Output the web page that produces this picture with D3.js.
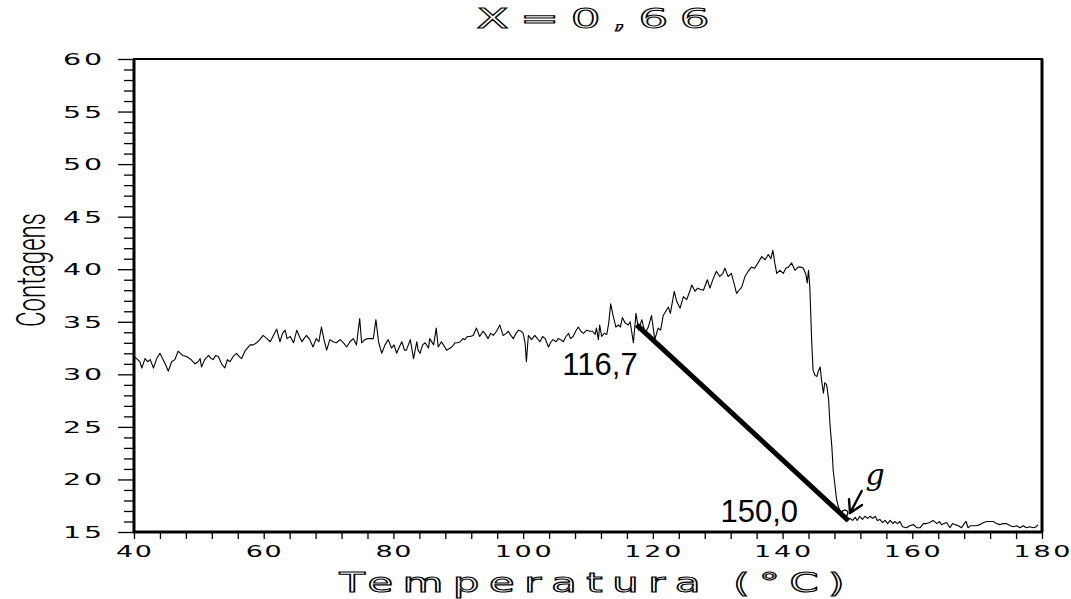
<!DOCTYPE html>
<html lang="pt">
<head>
<meta charset="UTF-8">
<title>X=0,66</title>
<script src="https://d3js.org/d3.v7.min.js"></script>
<style>
    body { margin: 0; background: #fff; }
    svg { display: block; }
    .wide { font-family: "DejaVu Sans", sans-serif; }
</style>
</head>
<body>
<svg id="chart" width="1071" height="599"></svg>
<script>
// counts, [temperature, counts]
const seg40to76 = [[40.0,31.7],[40.4,31.5],[40.9,31.2],[41.2,30.6],[41.7,31.5],[42.1,31.2],[42.5,31.4],[43.0,30.6],[43.5,31.5],[44.0,32.0],[44.4,31.5],[44.8,31.0],[45.3,30.3],[45.8,31.2],[46.3,31.4],[46.8,32.2],[47.5,31.8],[48.1,31.7],[48.8,31.4],[49.4,31.0],[49.9,31.2],[50.2,31.5],[50.4,30.7],[50.9,31.4],[51.5,31.8],[51.9,31.5],[52.2,31.4],[52.6,31.8],[53.0,31.7],[53.5,31.0],[54.0,30.6],[54.4,31.4],[54.8,31.2],[55.3,31.7],[55.8,32.0],[56.2,31.7],[56.6,31.5],[57.1,32.2],[57.9,32.8],[58.4,32.8],[58.9,33.0],[59.4,33.3],[59.9,33.7],[60.5,33.4],[61.0,33.1],[61.5,33.7],[62.0,34.3],[62.5,33.1],[62.9,33.9],[63.3,34.2],[63.6,33.4],[64.1,33.6],[64.6,33.0],[65.1,34.2],[65.5,33.6],[65.9,33.1],[66.2,33.4],[66.6,33.7],[67.1,33.3],[67.6,32.6],[68.1,33.4],[68.5,33.1],[68.9,34.5],[69.3,33.3],[69.7,32.3],[70.2,33.3],[70.7,33.1],[71.2,33.0],[71.8,33.3],[72.3,33.0],[72.8,32.6],[73.3,33.1],[73.8,33.4],[74.3,32.8],[74.8,35.3],[75.1,33.0],[75.6,33.3],[76.1,33.4]];
const seg76to110 = [[76.9,33.4],[77.3,35.2],[77.7,33.1],[78.2,32.0],[78.7,32.8],[79.2,33.3],[79.7,32.5],[80.1,32.8],[80.5,32.0],[80.9,32.6],[81.3,33.1],[81.7,32.3],[82.0,32.3],[82.6,33.3],[83.1,31.5],[83.6,33.1],[83.8,32.3],[84.1,32.0],[84.5,32.8],[84.9,33.0],[85.4,32.5],[85.6,33.4],[86.2,32.8],[86.6,34.4],[86.9,32.6],[87.4,33.1],[88.2,32.3],[89.0,32.6],[89.5,33.0],[89.9,33.0],[90.3,33.1],[90.7,33.4],[91.0,33.3],[91.4,33.6],[91.8,33.6],[92.3,33.7],[92.8,34.4],[93.3,33.6],[93.8,34.1],[94.1,33.9],[94.6,33.4],[95.0,33.9],[95.4,33.7],[95.9,34.1],[96.4,34.7],[96.9,33.7],[97.4,33.9],[97.7,34.1],[98.1,33.7],[98.5,33.4],[98.9,33.9],[99.3,34.2],[99.7,34.1],[100.0,33.9],[100.3,33.0],[100.5,31.2],[100.8,33.7],[101.3,33.3],[101.8,33.7],[102.2,33.4],[102.6,33.1],[103.0,33.6],[103.4,33.4],[103.9,32.6],[104.3,33.1],[104.6,33.3],[105.1,33.1],[105.4,33.4],[105.8,33.3],[106.2,33.1],[106.6,33.6],[107.0,33.9],[107.3,33.4],[107.7,33.6],[108.1,34.1],[108.5,34.5],[108.9,34.1],[109.3,33.9],[109.8,34.2],[110.3,34.1]];
const seg110to144 = [[110.7,34.1],[111.1,33.8],[111.3,34.4],[111.6,33.3],[111.8,34.7],[112.1,33.6],[112.5,33.9],[112.9,33.8],[113.2,34.9],[113.5,36.7],[113.9,35.5],[114.3,34.5],[114.7,34.7],[115.0,34.5],[115.3,35.4],[115.7,34.9],[116.2,34.7],[116.5,35.0],[116.7,34.2],[117.0,33.0],[117.4,35.8],[117.8,34.2],[118.3,35.2],[118.8,33.9],[119.3,34.5],[119.8,35.6],[120.3,33.3],[120.8,34.4],[121.2,34.2],[121.6,35.6],[122.0,36.0],[122.4,36.4],[122.7,35.8],[123.3,37.9],[123.7,36.9],[124.2,36.3],[124.7,37.4],[125.2,37.1],[125.7,37.9],[126.0,38.5],[126.5,37.9],[126.9,38.2],[127.3,38.1],[127.8,38.0],[128.4,39.0],[128.8,38.2],[129.3,39.1],[129.8,39.8],[130.3,39.3],[130.8,39.6],[131.1,40.1],[131.6,39.3],[132.1,39.6],[132.5,38.7],[132.9,37.7],[133.3,38.0],[133.7,38.3],[134.2,39.3],[134.7,39.8],[135.2,40.2],[135.7,40.1],[136.3,40.7],[136.8,41.2],[137.3,40.9],[137.8,41.4],[138.2,41.0],[138.5,41.8],[138.8,40.6],[139.1,39.6],[139.6,39.9],[140.1,39.6],[140.5,40.1],[140.9,40.2],[141.4,40.6],[141.9,39.9],[142.4,40.2],[142.8,40.2],[143.2,40.1],[143.6,39.5],[143.8,38.7],[144.0,39.9],[144.2,38.3]];
const seg144to158 = [[144.5,33.0],[144.7,30.4],[145.0,29.9],[145.3,29.8],[145.5,30.3],[145.8,30.7],[146.0,29.5],[146.3,28.2],[146.5,29.2],[146.8,29.0],[147.1,27.6],[147.3,25.3],[147.6,23.1],[147.8,20.9],[148.1,19.3],[148.3,18.2],[148.6,17.4],[149.0,16.8],[149.4,16.4],[149.9,16.0],[150.4,16.3],[150.8,16.1],[151.2,16.4],[151.5,16.1],[151.9,16.5],[152.3,16.2],[152.7,16.5],[153.1,16.3],[153.5,16.5],[153.9,16.3],[154.3,16.5],[154.6,16.1],[155.0,16.2],[155.4,15.9],[155.8,16.1],[156.2,15.8],[156.6,16.1],[157.0,15.8],[157.3,16.0],[157.7,15.8],[158.1,16.0]];
const seg158to180 = [[158.5,15.5],[159.1,15.4],[159.6,15.6],[160.2,15.7],[160.7,15.4],[161.2,15.4],[161.7,15.8],[162.2,15.8],[162.7,15.9],[163.2,16.1],[163.8,15.8],[164.2,16.0],[164.5,15.7],[164.9,15.8],[165.3,15.9],[165.8,15.4],[166.2,15.8],[166.6,15.7],[167.1,15.6],[167.6,15.4],[168.0,15.8],[168.3,16.0],[168.6,15.4],[169.0,15.6],[169.4,15.6],[169.9,15.6],[170.4,15.7],[171.0,15.9],[171.5,16.0],[172.0,16.0],[172.5,16.0],[173.0,15.8],[173.5,15.7],[174.0,15.8],[174.5,15.8],[175.1,15.6],[175.6,15.5],[176.1,15.6],[176.6,15.4],[177.1,15.6],[177.6,15.4],[178.1,15.5],[178.7,15.4],[179.1,15.5],[179.4,15.7]];

// tangent drawn by hand between the two marked temperatures
const tangentLine = [[117.5, 34.7], [150.1, 16.1]];
const tangentLabels = ["116,7", "150,0"];

const xTicks = [40, 60, 80, 100, 120, 140, 160, 180];
const yTicks = [15, 20, 25, 30, 35, 40, 45, 50, 55, 60];

const title = "X=0,66";
const xTitle = "Temperatura (°C)";
const yTitle = "Contagens";

const data = seg40to76.concat(seg76to110, seg110to144, seg144to158, seg158to180);

const svg = d3.select("#chart");
const margin = { top: 59, right: 29, bottom: 67, left: 134 };
const W = 1071, H = 599;

const x = d3.scaleLinear().domain([40, 180]).range([margin.left, W - margin.right]);
const y = d3.scaleLinear().domain([15, 60]).range([H - margin.bottom, margin.top]);

// wide, letter-spaced lettering like the plotter font
function wideText(str, tx, ty, size, sx, width, anchor) {
    const t = svg.append("text")
        .attr("class", "wide")
        .attr("transform", `translate(${tx},${ty}) scale(${sx},1)`)
        .attr("font-size", size)
        .attr("text-anchor", anchor)
        .text(str);
    if (width) t.attr("textLength", width / sx).attr("lengthAdjust", "spacing");
    return t;
}

// axes
const xAxis = d3.axisBottom(x).tickValues(d3.range(40, 181, 4)).tickSize(7).tickFormat("");
const yAxis = d3.axisLeft(y).tickValues(d3.range(15, 61, 1))
    .tickSize(10).tickFormat("");

svg.append("g").attr("transform", `translate(0,${y(15)})`).call(xAxis)
    .call(g => g.select(".domain").remove())
    .call(g => g.selectAll("line").attr("stroke-width", 1.3));
svg.append("g").attr("transform", `translate(${x(40)},0)`).call(yAxis)
    .call(g => g.select(".domain").remove())
    .call(g => g.selectAll(".tick line").attr("stroke-width", 1.3)
        .attr("x2", d => d % 5 === 0 ? -16 : -10));

// frame
svg.append("rect")
    .attr("x", x(40)).attr("y", y(60))
    .attr("width", x(180) - x(40)).attr("height", y(15) - y(60))
    .attr("fill", "none").attr("stroke", "#000").attr("stroke-width", 2);
svg.append("line").attr("x1", x(40)).attr("x2", x(40)).attr("y1", y(60)).attr("y2", y(15))
    .attr("stroke", "#000").attr("stroke-width", 3);
svg.append("line").attr("x1", x(180)).attr("x2", x(180)).attr("y1", y(60)).attr("y2", y(15))
    .attr("stroke", "#000").attr("stroke-width", 3);
svg.append("line").attr("x1", x(40) - 1).attr("x2", x(180) + 1).attr("y1", y(15)).attr("y2", y(15))
    .attr("stroke", "#000").attr("stroke-width", 3);

// tick labels
xTicks.forEach(t => {
    const s = String(t);
    wideText(s, x(t), y(15) + 25, 15, 1.8, s.length * 15 + (s.length - 1) * 6, "middle");
});
yTicks.forEach(t => {
    wideText(String(t), x(40) - 29, y(t) + 6, 15, 1.9, null, "end").attr("letter-spacing", 1.5);
});

// titles
wideText(title, 593, 28, 26, 1.8, 233, "middle")
    .attr("fill", "#fff").attr("stroke", "#000").attr("stroke-width", 1);
wideText(xTitle, 592, 592, 26, 1.6, 505, "middle")
    .attr("fill", "#fff").attr("stroke", "#000").attr("stroke-width", 1.1);

svg.append("text")
    .attr("transform", `translate(45,270) rotate(-90)`)
    .attr("font-family", "Roboto, 'Liberation Sans', sans-serif")
    .attr("font-weight", 300)
    .attr("font-size", 40)
    .attr("text-anchor", "middle")
    .attr("textLength", 114).attr("lengthAdjust", "spacingAndGlyphs")
    .text(yTitle);

// trace
const line = d3.line().x(d => x(d[0])).y(d => y(d[1]));
svg.append("path")
    .datum(data)
    .attr("d", line)
    .attr("fill", "none")
    .attr("stroke", "#000")
    .attr("stroke-width", 1.1)
    .attr("stroke-linejoin", "round");

// tangent
svg.append("path")
    .datum(tangentLine)
    .attr("d", line)
    .attr("stroke", "#000")
    .attr("stroke-width", 5);

svg.append("text")
    .attr("x", x(tangentLine[0][0]) + 1).attr("y", y(tangentLine[0][1]) + 50)
    .attr("text-anchor", "end")
    .attr("font-family", "'Liberation Sans', Arial, sans-serif")
    .attr("font-size", 31)
    .text(tangentLabels[0]);
svg.append("text")
    .attr("x", x(tangentLine[1][0]) - 50).attr("y", y(tangentLine[1][1]) + 2)
    .attr("text-anchor", "end")
    .attr("font-family", "'Liberation Sans', Arial, sans-serif")
    .attr("font-size", 31)
    .text(tangentLabels[1]);

// marked point with the hand-written arrow
svg.append("circle")
    .attr("cx", x(149.6)).attr("cy", y(16.8)).attr("r", 3)
    .attr("fill", "none").attr("stroke", "#000").attr("stroke-width", 1.2);

const ax0 = x(152.2), ay0 = y(18.9), ax1 = x(150.4), ay1 = y(16.8);
svg.append("path")
    .attr("d", `M${ax0},${ay0} L${ax1},${ay1} M${ax1 - 1},${ay1 - 14} L${ax1},${ay1} L${ax1 + 12},${ay1 - 8}`)
    .attr("fill", "none").attr("stroke", "#000").attr("stroke-width", 2.4)
    .attr("stroke-linecap", "round").attr("stroke-linejoin", "round");

svg.append("text")
    .attr("x", x(152.8)).attr("y", y(19.5))
    .attr("font-family", "'DejaVu Serif', serif")
    .attr("font-style", "italic")
    .attr("font-size", 30)
    .text("g");
</script>
</body>
</html>
